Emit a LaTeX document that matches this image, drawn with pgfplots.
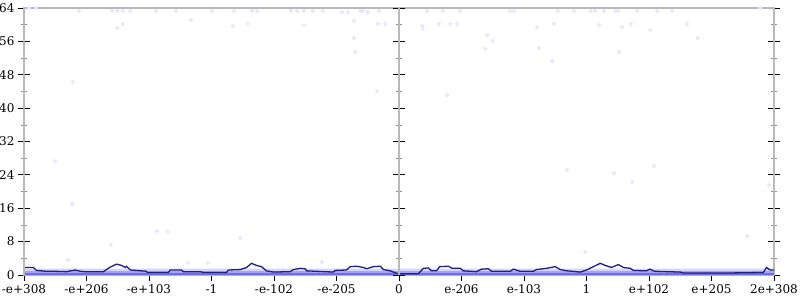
\documentclass[border=0pt]{standalone}
\usepackage{pgfplots}
\pgfplotsset{compat=1.18}
\usepackage{fontspec}
\setmainfont{DejaVu Serif}
\definecolor{spine}{RGB}{185,185,185}
\definecolor{navy}{RGB}{32,32,125}
\definecolor{band1}{RGB}{212,212,252}
\definecolor{band2}{RGB}{165,165,245}
\definecolor{band3}{RGB}{110,110,232}
\definecolor{ptfill}{RGB}{236,236,255}
\definecolor{ptdraw}{RGB}{222,222,255}
\pgfplotsset{
  common/.style={
    scale only axis, height=267pt,
    ymin=0, ymax=64,
    axis line style={spine, line width=1.5pt},
    ytick={0,8,...,64}, minor ytick={4,12,...,60},
    tick align=center,
    major tick length=12pt, minor tick length=6pt,
    every major tick/.style={black, line width=0.8pt},
    every minor tick/.style={black!45, line width=0.6pt},
    tick label style={font=\fontsize{12}{14}\selectfont},
    /pgf/number format/assume math mode=true,
  }
}
\begin{document}
\begin{tikzpicture}
\path[use as bounding box] (-24pt,-25pt) rectangle (776pt,275pt);
\begin{axis}[common, width=750pt,
  xmin=0, xmax=12,
  xtick={0,...,12},
  xticklabels={-e+308,-e+206,-e+103,-1,-e-102,-e-205,0,e-206,e-103,1,e+102,e+205,2e+308},
  xtick pos=lower, ytick pos=both, yticklabel pos=left,
]
\addplot[fill=band1, draw=none] coordinates {(0,0)(0,1.5)(12,1.5)(12,0)} \closedcycle;
\addplot[fill=band2, draw=none] coordinates {(0,0)(0,0.9)(12,0.9)(12,0)} \closedcycle;
\addplot[fill=band3, draw=none] coordinates {(0,0)(0,0.45)(12,0.45)(12,0)} \closedcycle;
\addplot[only marks, mark=*, mark size=1.8pt, mark options={fill=ptfill, draw=ptdraw, line width=0.4pt}] coordinates {
(0.08,64.0)(0.19,64.0)(0.88,63.3)(1.41,63.3)(1.49,63.3)(1.58,63.3)(1.70,63.3)
(1.49,59.2)(1.58,60.2)(0.78,46.3)(2.11,63.3)(2.43,63.3)(2.67,61.1)(3.01,63.3)
(3.34,59.7)(3.36,63.3)(3.58,60.2)(3.65,63.3)(3.73,63.3)(4.27,63.3)(4.37,63.3)
(4.48,63.3)(4.48,59.9)(4.62,63.3)(4.78,63.3)(5.09,63.0)(5.18,63.0)(5.28,60.9)
(5.28,56.8)(5.30,53.5)(5.38,63.3)(5.42,63.3)(5.50,63.0)(5.66,60.2)(5.68,63.3)
(5.78,60.2)(5.65,44.1)
(6.45,63.3)(6.70,63.3)(6.98,63.3)(6.37,59.7)(6.38,59.0)(6.64,60.2)(6.82,60.2)
(6.93,60.2)(7.41,57.5)(7.50,56.1)(7.38,54.2)(7.78,63.3)(7.84,63.3)(8.21,59.4)
(8.48,60.2)(8.24,54.4)(8.45,51.3)(8.54,63.3)(8.80,63.3)(9.07,63.3)(9.14,63.3)
(9.28,63.3)(9.46,63.3)(9.50,63.3)(9.20,59.9)(9.57,59.4)(9.71,60.2)(9.52,53.5)
(9.81,63.3)(10.13,63.3)(10.37,63.3)(10.02,58.7)(10.61,60.2)(10.78,56.8)(6.77,43.1)
(11.78,64.0)
(0.50,27.3)(0.77,17.0)(2.13,10.5)(2.30,10.3)(3.46,8.9)(1.39,7.2)(0.70,3.6)
(2.62,2.9)(2.94,2.9)(4.77,3.1)(8.69,25.2)(9.44,24.4)(9.73,22.3)(10.08,26.1)
(11.92,21.6)(11.57,9.3)(8.98,5.5)
};
\addplot[navy, line width=1.3pt] coordinates {
(0,1.8)(0.15,1.8)(0.2,1.1)(0.35,0.9)(0.47,0.9)(0.68,0.8)(0.82,1.2)(0.9,0.9)
(0.97,0.8)(1.27,0.8)(1.38,1.9)(1.48,2.6)(1.56,2.3)(1.62,1.8)(1.64,2.1)(1.70,1.2)
(1.96,0.9)(1.97,0.6)(2.31,0.6)(2.34,1.2)(2.52,1.2)(2.55,0.8)(2.82,0.8)(2.87,0.6)
(3.24,0.6)(3.27,1.2)(3.46,1.3)(3.56,1.8)(3.64,2.8)(3.72,2.3)(3.80,2.0)(3.88,1.0)
(3.99,0.7)(4.26,0.8)(4.31,1.3)(4.42,1.6)(4.50,1.5)(4.52,1.0)(4.95,0.7)(4.98,1.1)
(5.16,1.2)(5.22,2.0)(5.32,2.1)(5.43,1.8)(5.48,1.5)(5.59,2.0)(5.70,2.1)(5.75,1.3)
(5.86,1.0)(5.96,0.4)(6.02,0.3)(6.31,0.3)(6.39,1.6)(6.47,1.7)(6.52,1.0)(6.60,1.0)
(6.65,2.0)(6.79,2.1)(6.85,1.6)(6.98,1.6)(7.03,1.0)(7.24,0.8)(7.32,1.4)(7.43,1.5)
(7.48,0.9)(7.78,0.9)(7.83,1.4)(7.94,0.9)(8.15,0.9)(8.2,1.3)(8.36,1.6)(8.50,2.0)
(8.58,1.3)(8.69,1.0)(8.90,0.7)(9.0,1.2)(9.11,2.0)(9.22,2.8)(9.30,2.3)(9.40,1.8)
(9.51,2.5)(9.59,1.8)(9.70,1.6)(9.75,1.1)(9.96,1.0)(10.01,1.4)(10.09,0.9)(10.5,0.7)
(10.55,0.5)(10.87,0.5)(11.35,0.5)(11.83,0.6)(11.88,1.8)(11.94,1.2)(12,1.2)
};
\end{axis}
\begin{axis}[common, width=375pt,
  xmin=0, xmax=6, hide x axis,
  ytick pos=right, yticklabels={},
]
\addplot[draw=none] coordinates {(0,0)};
\end{axis}
\end{tikzpicture}
\end{document}
